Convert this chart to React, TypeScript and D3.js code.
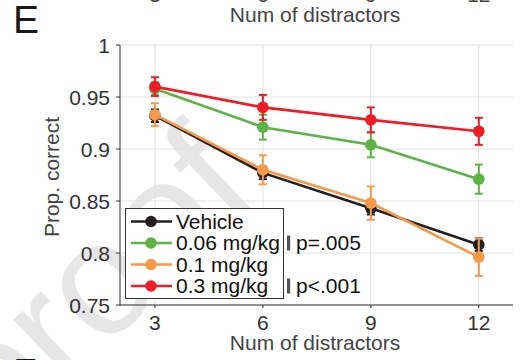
import React from "react";
import * as d3 from "d3";

const xTicks = [3, 6, 9, 12];
const yTicks = [0.75, 0.8, 0.85, 0.9, 0.95, 1];
const yTickLabels = ["0.75", "0.8", "0.85", "0.9", "0.95", "1"];

const seriesNames = ["Vehicle", "0.06 mg/kg", "0.1 mg/kg", "0.3 mg/kg"];
const seriesColors = ["#231f20", "#5db346", "#f7994a", "#ee1c25"];
const vehicleMean = [0.932, 0.877, 0.843, 0.808];
const vehicleErr = [0.006, 0.006, 0.006, 0.006];
const low006Mean = [0.958, 0.921, 0.904, 0.871];
const low006Err = [0.006, 0.012, 0.012, 0.014];
const mid01Mean = [0.933, 0.880, 0.848, 0.796];
const mid01Err = [0.011, 0.014, 0.016, 0.018];
const high03Mean = [0.960, 0.940, 0.928, 0.917];
const high03Err = [0.009, 0.012, 0.012, 0.013];
const pLabels = ["p=.005", "p<.001"];

const allMeans = [vehicleMean, low006Mean, mid01Mean, high03Mean];
const allErrs = [vehicleErr, low006Err, mid01Err, high03Err];

const FONT = "'Liberation Sans', Arial, Helvetica, sans-serif";

export default function App() {
  const x = d3.scaleLinear().domain([2.03, 12.95]).range([120, 513]);
  const y = d3.scaleLinear().domain([0.75, 1]).range([305, 45]);
  const line = d3
    .line<number>()
    .x((_, i) => x(xTicks[i]))
    .y((d) => y(d));

  const legendY = [221.5, 243, 264.5, 286];
  const pRows = [1, 3];

  return (
    <svg width={524} height={360} style={{ position: "absolute", left: 0, top: 0, background: "#fff" }} fontFamily={FONT}>
      <rect x={0} y={0} width={524} height={360} fill="#fff" />
      {/* watermark */}
      <text
        x={0}
        y={0}
        fontSize={160}
        fill="#e6e6e6"
        transform="translate(0,450) rotate(-44)"
      >
        proof
      </text>
      {/* previous panel remnants */}
      {xTicks.map((t) => (
        <text key={"pt" + t} x={x(t)} y={1.5} fontSize={21} fill="#444" textAnchor="middle">
          {t}
        </text>
      ))}
      <text x={315} y={22} fontSize={21} fill="#444" textAnchor="middle">
        Num of distractors
      </text>
      <text x={13} y={33} fontSize={39} fill="#1a1a1a">
        E
      </text>
      <text x={13} y={386} fontSize={39} fill="#1a1a1a">
        F
      </text>
      {/* grid */}
      {xTicks.map((t) => (
        <line key={"gx" + t} x1={x(t)} x2={x(t)} y1={45} y2={305} stroke="#e2e2e2" strokeWidth={1} />
      ))}
      {yTicks.map((t) => (
        <line key={"gy" + t} x1={120} x2={513} y1={y(t)} y2={y(t)} stroke="#e2e2e2" strokeWidth={1} />
      ))}
      {/* axes */}
      <line x1={120} x2={120} y1={45} y2={305.5} stroke="#333" strokeWidth={1} />
      <line x1={120} x2={513} y1={305} y2={305} stroke="#333" strokeWidth={1} />
      {yTicks.map((t, i) => (
        <g key={"yt" + t}>
          <line x1={116} x2={120} y1={y(t)} y2={y(t)} stroke="#333" strokeWidth={1} />
          <text x={110} y={y(t)} dy="0.36em" fontSize={21} fill="#333" textAnchor="end">
            {yTickLabels[i]}
          </text>
        </g>
      ))}
      {xTicks.map((t) => (
        <g key={"xt" + t}>
          <line x1={x(t)} x2={x(t)} y1={305} y2={308} stroke="#333" strokeWidth={1} />
          <text x={x(t)} y={330} fontSize={21} fill="#333" textAnchor="middle">
            {t}
          </text>
        </g>
      ))}
      <text x={315} y={350} fontSize={21} fill="#444" textAnchor="middle">
        Num of distractors
      </text>
      <text
        x={0}
        y={0}
        fontSize={21}
        fill="#444"
        textAnchor="middle"
        transform="translate(59,177) rotate(-90)"
      >
        Prop. correct
      </text>
      {/* series */}
      {allMeans.map((m, s) => (
        <g key={"s" + s}>
          <path d={line(m) || ""} fill="none" stroke={seriesColors[s]} strokeWidth={2.6} />
          {m.map((v, i) => {
            const cx = x(xTicks[i]);
            const e = allErrs[s][i];
            return (
              <g key={i}>
                <line x1={cx} x2={cx} y1={y(v + e)} y2={y(v - e)} stroke={seriesColors[s]} strokeWidth={2} />
                <line x1={cx - 4} x2={cx + 4} y1={y(v + e)} y2={y(v + e)} stroke={seriesColors[s]} strokeWidth={2} />
                <line x1={cx - 4} x2={cx + 4} y1={y(v - e)} y2={y(v - e)} stroke={seriesColors[s]} strokeWidth={2} />
                <circle cx={cx} cy={y(v)} r={5.8} fill={seriesColors[s]} />
              </g>
            );
          })}
        </g>
      ))}
      {/* legend */}
      <rect x={125.5} y={208.5} width={158} height={90} fill="#fff" stroke="#333" strokeWidth={1} />
      {seriesNames.map((n, i) => (
        <g key={"lg" + i}>
          <line x1={131} x2={172} y1={legendY[i]} y2={legendY[i]} stroke={seriesColors[i]} strokeWidth={2.6} />
          <circle cx={151} cy={legendY[i]} r={5.8} fill={seriesColors[i]} />
          <text x={176} y={legendY[i]} dy="0.35em" fontSize={21} fill="#111">
            {n}
          </text>
        </g>
      ))}
      {pLabels.map((p, i) => (
        <g key={"p" + i}>
          <rect x={287} y={legendY[pRows[i]] - 7.5} width={3.2} height={15} fill="#555" />
          <text x={296} y={legendY[pRows[i]]} dy="0.35em" fontSize={21} fill="#111">
            {p}
          </text>
        </g>
      ))}
    </svg>
  );
}
